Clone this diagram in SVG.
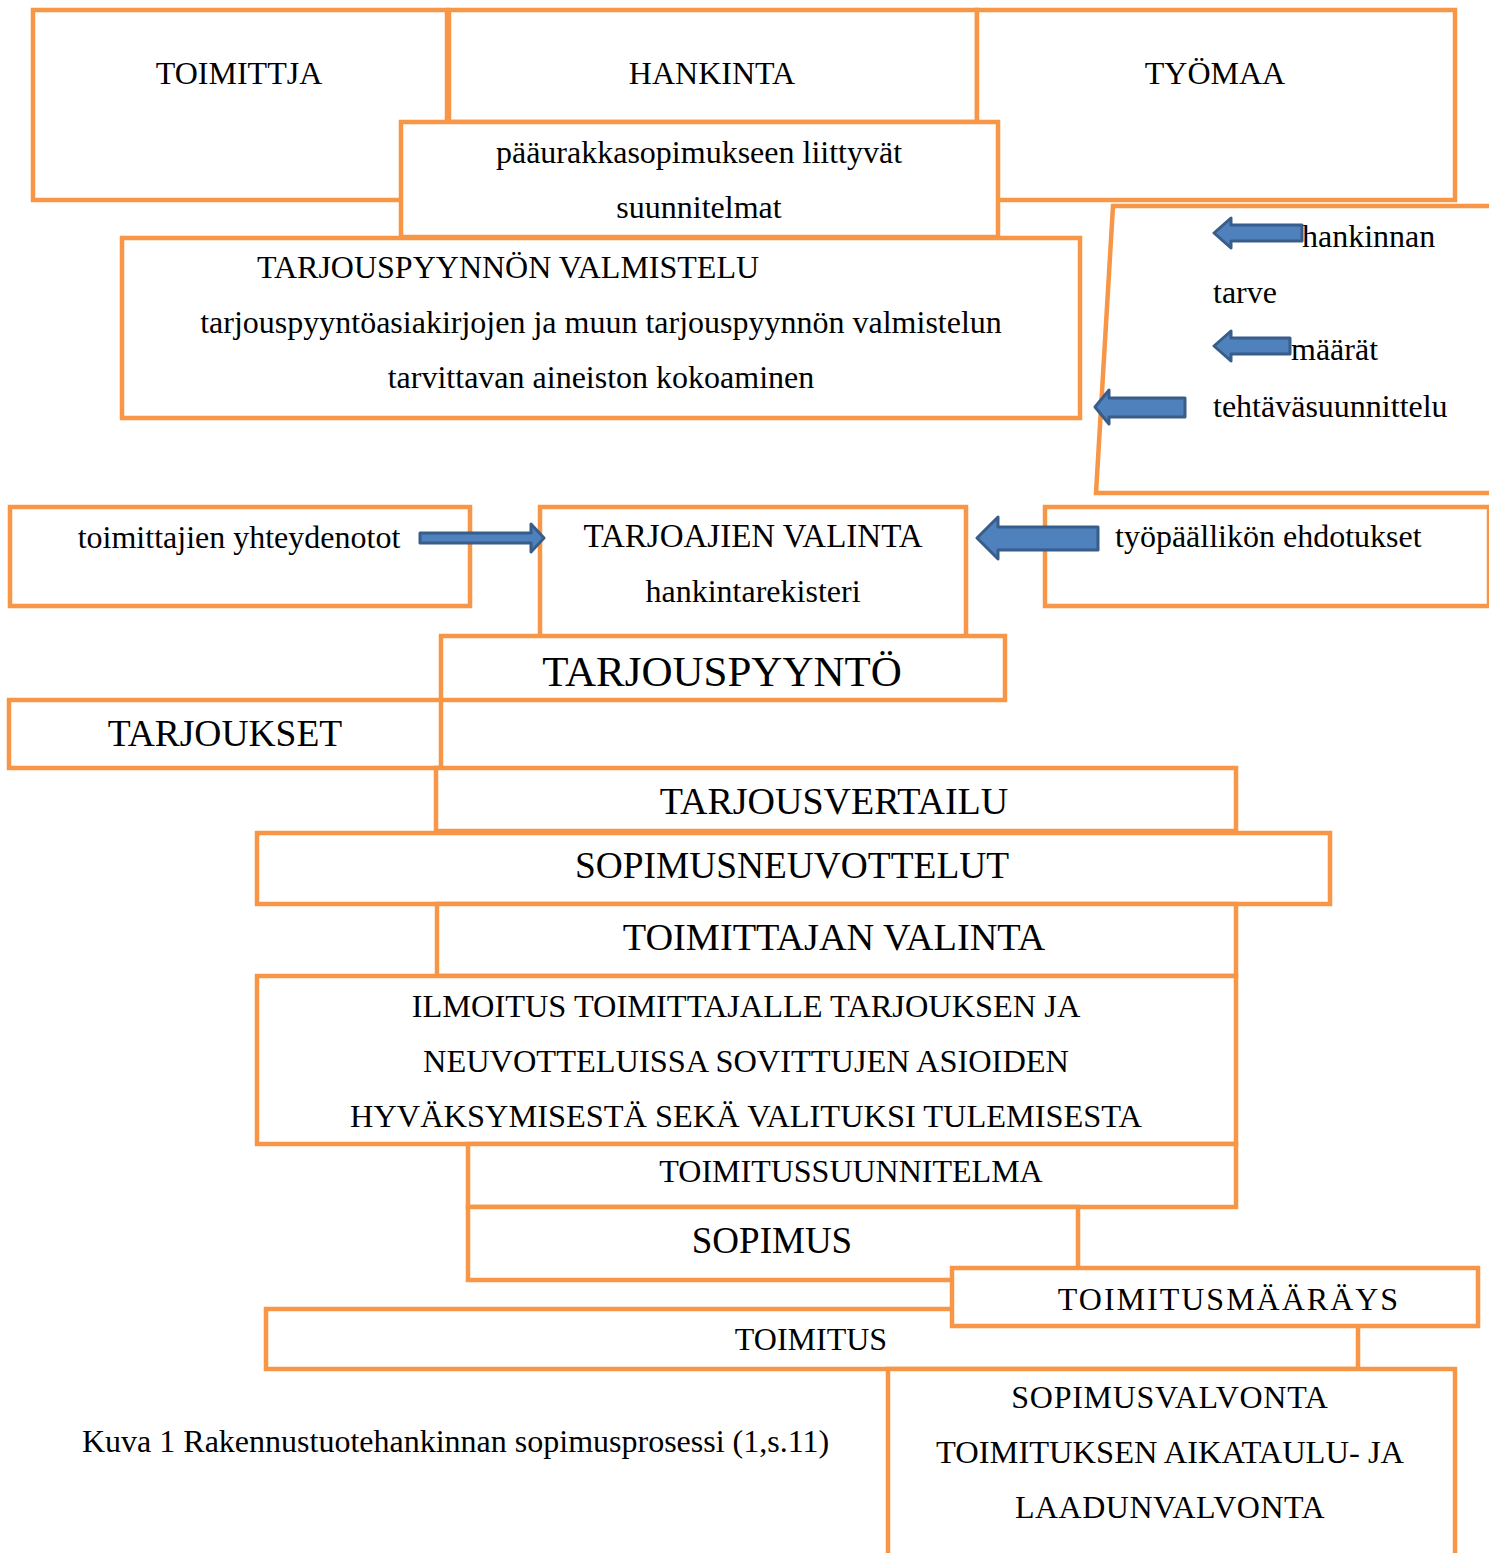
<svg xmlns="http://www.w3.org/2000/svg" width="1489" height="1553" viewBox="0 0 1489 1553">
<style>
.box{fill:#ffffff;stroke:#F79646;stroke-width:4.5;stroke-linejoin:miter}
.t{font-family:"Liberation Serif","Times New Roman",serif;font-size:32px;fill:#000}
.m{text-anchor:middle}
.arr{fill:#4F81BD;stroke:#385D8A;stroke-width:3;stroke-linejoin:round}
</style>
<rect width="1489" height="1553" fill="#ffffff"/>
<g id="toimittja"><rect class="box" x="33" y="10" width="414" height="190"/><text class="t m" x="239" y="84">TOIMITTJA</text></g>
<g id="hankinta"><rect class="box" x="449" y="10" width="528" height="112"/><text class="t m" x="712" y="84">HANKINTA</text></g>
<g id="tyomaa"><rect class="box" x="977" y="10" width="478" height="190"/><text class="t m" x="1215" y="84">TYÖMAA</text></g>
<g id="paaurakka"><rect class="box" x="401" y="122" width="597" height="115"/><text class="t m" x="699" y="163">pääurakkasopimukseen liittyvät</text><text class="t m" x="699" y="218">suunnitelmat</text></g>
<g id="valmistelu"><rect class="box" x="122" y="238" width="958" height="180"/><text class="t m" x="508" y="278">TARJOUSPYYNNÖN VALMISTELU</text><text class="t m" x="601" y="333">tarjouspyyntöasiakirjojen ja muun tarjouspyynnön valmistelun</text><text class="t m" x="601" y="388">tarvittavan aineiston kokoaminen</text></g>
<g id="tarve"><polygon class="box" points="1113,206 1492,206 1492,493 1096,493"/><text class="t" x="1302" y="247">hankinnan</text><text class="t" x="1213" y="303">tarve</text><text class="t" x="1291" y="360">määrät</text><text class="t" x="1213" y="417">tehtäväsuunnittelu</text></g>
<g id="yhteydenotot"><rect class="box" x="10" y="507" width="460" height="99"/><text class="t m" x="239" y="548">toimittajien yhteydenotot</text></g>
<g id="tarjoajien-valinta"><rect class="box" x="540" y="507" width="426" height="130"/><text class="t m" x="753" y="547" style="font-size:33px">TARJOAJIEN VALINTA</text><text class="t m" x="753" y="602">hankintarekisteri</text></g>
<g id="ehdotukset"><rect class="box" x="1045" y="507" width="444" height="99"/><text class="t" x="1115" y="547">työpäällikön ehdotukset</text></g>
<g id="tarjouspyynto"><rect class="box" x="441" y="636" width="564" height="64"/><text class="t m" x="722" y="686" style="font-size:43px">TARJOUSPYYNTÖ</text></g>
<g id="tarjoukset"><rect class="box" x="9" y="700" width="432" height="68"/><text class="t m" x="225" y="746" style="font-size:37.5px">TARJOUKSET</text></g>
<g id="tarjousvertailu"><rect class="box" x="436" y="768" width="800" height="63"/><text class="t m" x="834" y="814" style="font-size:38px">TARJOUSVERTAILU</text></g>
<g id="sopimusneuvottelut"><rect class="box" x="257" y="833" width="1073" height="71"/><text class="t m" x="792" y="878" style="font-size:37.4px">SOPIMUSNEUVOTTELUT</text></g>
<g id="toimittajan-valinta"><rect class="box" x="437" y="904" width="799" height="72"/><text class="t m" x="834" y="950" style="font-size:38.3px">TOIMITTAJAN VALINTA</text></g>
<g id="ilmoitus"><rect class="box" x="257" y="976" width="979" height="168"/><text class="t m" x="746" y="1017" style="font-size:32.4px">ILMOITUS TOIMITTAJALLE TARJOUKSEN JA</text><text class="t m" x="746" y="1072" style="font-size:32.4px">NEUVOTTELUISSA SOVITTUJEN ASIOIDEN</text><text class="t m" x="746" y="1127" style="font-size:32.4px">HYVÄKSYMISESTÄ SEKÄ VALITUKSI TULEMISESTA</text></g>
<g id="toimitussuunnitelma"><rect class="box" x="468" y="1144" width="768" height="63"/><text class="t m" x="851" y="1182">TOIMITUSSUUNNITELMA</text></g>
<g id="sopimus"><rect class="box" x="468" y="1207" width="610" height="73"/><text class="t m" x="772" y="1253" style="font-size:37px">SOPIMUS</text></g>
<g id="toimitus"><rect class="box" x="266" y="1309" width="1092" height="60"/><text class="t m" x="811" y="1350">TOIMITUS</text></g>
<g id="toimitusmaarays"><rect class="box" x="952" y="1268" width="526" height="58"/><text class="t m" x="1229" y="1310" style="letter-spacing:2px">TOIMITUSMÄÄRÄYS</text></g>
<g id="sopimusvalvonta"><rect class="box" x="888" y="1369" width="567" height="210"/><text class="t m" x="1170" y="1408" style="letter-spacing:0.7px">SOPIMUSVALVONTA</text><text class="t m" x="1170" y="1463" style="font-size:32.5px">TOIMITUKSEN AIKATAULU- JA</text><text class="t m" x="1170" y="1518" style="letter-spacing:0.5px">LAADUNVALVONTA</text></g>
<g id="caption"><text class="t" x="82" y="1452">Kuva 1 Rakennustuotehankinnan sopimusprosessi (1,s.11)</text></g>
<g id="connectors">
<path class="arr" d="M1214,233 L1231,218 L1231,225 L1302,225 L1302,241 L1231,241 L1231,248 Z"/>
<path class="arr" d="M1214,346 L1231,331 L1231,338 L1290,338 L1290,354 L1231,354 L1231,361 Z"/>
<path class="arr" d="M1095,407 L1109,390 L1109,398 L1185,398 L1185,417 L1109,417 L1109,424 Z"/>
<path class="arr" d="M977,538 L998,517 L998,527 L1098,527 L1098,550 L998,550 L998,559 Z"/>
<path class="arr" d="M420,533 L531,533 L531,524 L544,538 L531,552 L531,543 L420,543 Z"/>
</g>
</svg>
